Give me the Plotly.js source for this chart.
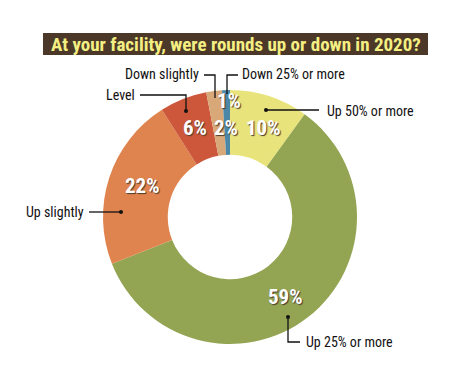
<!DOCTYPE html>
<html><head><meta charset="utf-8">
<script src="https://cdn.plot.ly/plotly-3.0.1.min.js"></script>
<style>html,body{margin:0;padding:0;background:#fff}</style>
</head><body><div id="chart" style="width:450px;height:377px"></div>
<script>
const categories = ["Up 50% or more", "Up 25% or more", "Up slightly", "Level", "Down slightly", "Down 25% or more"];
const values = [10, 59, 22, 6, 2, 1];
const colors = ["#e9e37c", "#93a553", "#e0844f", "#cc573b", "#d8a878", "#4b87a7"];
const titleText = "At your facility, were rounds up or down in 2020?";

const W = 450, H = 377;
const px = x => x / W, py = y => 1 - y / H;
const cond = "'Liberation Sans Narrow', 'Arial Narrow', 'Roboto Condensed', sans-serif";

// percent label centers (pixels), in category order
const pctPos = [[263,128],[285,297],[142,186],[195,128],[226,128],[229,101]];
// category label positions
const labelPos = [
  {x:325, y:111, anchor:"left"},
  {x:304, y:342, anchor:"left"},
  {x:86, y:212, anchor:"right"},
  {x:137, y:95, anchor:"right"},
  {x:201, y:74, anchor:"right"},
  {x:240, y:74, anchor:"left"}
];
// leader lines (pixel polylines)
const leaders = [
  [[266,110],[319,110]],
  [[288,317],[288,342],[300,342]],
  [[89,212],[121,212]],
  [[140,95],[186,95],[186,111]],
  [[204,75],[215,75],[215,98]],
  [[238,75],[227,75],[227,94]]
];
const dots = [[266,110],[288,317],[121,212],[186,111]];

const shapes = [{type:"rect", xref:"paper", yref:"paper", layer:"below", x0:px(43), x1:px(428), y0:py(55), y1:py(33), fillcolor:"#4b3828", line:{width:0}}];
leaders.forEach(pts => {
  let path = pts.map((p,i) => (i?"L":"M") + px(p[0]) + "," + py(p[1])).join(" ");
  shapes.push({type:"path", xref:"paper", yref:"paper", path:path, line:{color:"#111", width:1.3}});
});
dots.forEach(d => shapes.push({type:"circle", xref:"paper", yref:"paper", x0:px(d[0]-2), x1:px(d[0]+2), y0:py(d[1]+2), y1:py(d[1]-2), fillcolor:"#111", line:{width:0}}));

const annotations = [{xref:"paper", yref:"paper", x:px(235.5), y:py(44.5), xanchor:"center", yanchor:"middle", text:"<b>"+titleText+"</b>", showarrow:false, font:{family:cond, size:19, color:"#f4ef82"}}];
categories.forEach((c,i) => {
  annotations.push({xref:"paper", yref:"paper", x:px(labelPos[i].x), y:py(labelPos[i].y), xanchor:labelPos[i].anchor, yanchor:"middle", text:c, showarrow:false, font:{family:cond, size:14, color:"#111"}});
  annotations.push({xref:"paper", yref:"paper", x:px(pctPos[i][0]), y:py(pctPos[i][1]), xanchor:"center", yanchor:"middle", text:"<b>"+values[i]+"%</b>", showarrow:false, font:{family:cond, size:21, color:"#ffffff", shadow:"1px 1px 1px #4a3a2a"}});
});

const data = [{
  type:"pie", labels:categories, values:values, sort:false, direction:"clockwise", rotation:0,
  hole:0.49, textinfo:"none", hoverinfo:"skip",
  marker:{colors:colors, line:{width:0}},
  domain:{x:[px(103), px(357)], y:[py(345), py(89)]}
}];
const layout = {width:W, height:H, margin:{l:0,r:0,t:0,b:0}, showlegend:false, paper_bgcolor:"#fff", shapes:shapes, annotations:annotations};
Plotly.newPlot("chart", data, layout, {displayModeBar:false, staticPlot:true});
</script></body></html>
